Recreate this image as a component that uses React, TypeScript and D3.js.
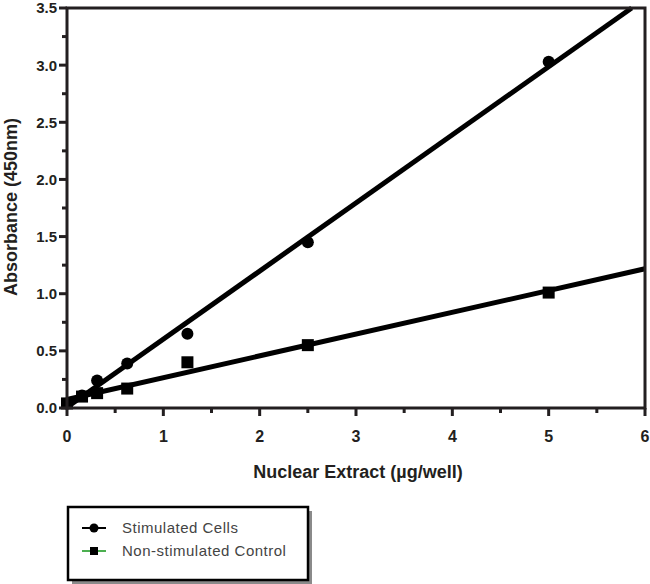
import React from "react";
import * as d3 from "d3";

// nuclear extract amount (ug/well)
const extract = [0, 0.156, 0.3125, 0.625, 1.25, 2.5, 5];
const stimulated = [0.04, 0.11, 0.24, 0.39, 0.65, 1.45, 3.03];
const nonStimulated = [0.04, 0.1, 0.13, 0.17, 0.4, 0.55, 1.01];

const xTicks = [0, 1, 2, 3, 4, 5, 6];
const yTicks = [0, 0.5, 1, 1.5, 2, 2.5, 3, 3.5];

const W = 650;
const H = 584;
const ink = "#231f20";
const font = "'Liberation Sans', Arial, sans-serif";

function fit(xs: number[], ys: number[]) {
  const mx = d3.mean(xs)!;
  const my = d3.mean(ys)!;
  const sxy = d3.sum(xs, (x, i) => (x - mx) * (ys[i] - my));
  const sxx = d3.sum(xs, (x) => (x - mx) ** 2);
  const slope = sxy / sxx;
  return { slope, intercept: my - slope * mx };
}

export default function App() {
  const x = d3.scaleLinear().domain([0, 6]).range([67, 645]);
  const y = d3.scaleLinear().domain([0, 3.5]).range([408, 8]);

  const fitLine = (ys: number[]) => {
    const { slope, intercept } = fit(extract, ys);
    // clip to the plot box
    let x1 = 6;
    if (intercept + slope * 6 > 3.5) x1 = (3.5 - intercept) / slope;
    let x0 = 0;
    if (intercept < 0) x0 = -intercept / slope;
    return d3.line<number>()
      .x((d) => x(d))
      .y((d) => y(intercept + slope * d))([x0, x1]) || "";
  };

  const xMinor = d3.range(0.5, 6, 1);
  const yMinor = d3.range(0.25, 3.5, 0.5);

  return (
    <div style={{ position: "absolute", left: 0, top: 0 }}>
      <svg width={W} height={H} style={{ display: "block" }}>
        <rect width={W} height={H} fill="#fff" />

        {/* fitted lines */}
        <path d={fitLine(stimulated)} stroke="#000" strokeWidth={5} fill="none" />
        <path d={fitLine(nonStimulated)} stroke="#000" strokeWidth={5} fill="none" />

        {/* points */}
        {extract.map((d, i) => (
          <circle key={"s" + i} cx={x(d)} cy={y(stimulated[i])} r={6} fill="#000" />
        ))}
        {extract.map((d, i) => (
          <rect key={"n" + i} x={x(d) - 6} y={y(nonStimulated[i]) - 6} width={12} height={12} fill="#000" />
        ))}

        {/* frame */}
        <rect x={67} y={8} width={578} height={400} fill="none" stroke={ink} strokeWidth={3} />

        {/* y axis ticks */}
        {yTicks.map((t) => (
          <g key={"yt" + t}>
            <line x1={59} x2={67} y1={y(t)} y2={y(t)} stroke={ink} strokeWidth={3} />
            <text x={57} y={y(t)} dy="0.36em" textAnchor="end" fontFamily={font}
              fontWeight="bold" fontSize={15} fill={ink}>{d3.format(".1f")(t)}</text>
          </g>
        ))}
        {yMinor.map((t) => (
          <line key={"ym" + t} x1={62} x2={67} y1={y(t)} y2={y(t)} stroke={ink} strokeWidth={3} />
        ))}

        {/* x axis ticks */}
        {xTicks.map((t) => (
          <g key={"xt" + t}>
            <line x1={x(t)} x2={x(t)} y1={408} y2={416} stroke={ink} strokeWidth={3} />
            <text x={x(t)} y={442} textAnchor="middle" fontFamily={font}
              fontWeight="bold" fontSize={16} fill={ink}>{t}</text>
          </g>
        ))}
        {xMinor.map((t) => (
          <line key={"xm" + t} x1={x(t)} x2={x(t)} y1={408} y2={413} stroke={ink} strokeWidth={3} />
        ))}

        {/* axis titles */}
        <text x={358} y={478} textAnchor="middle" fontFamily={font} fontWeight="bold"
          fontSize={18} fill={ink}>Nuclear Extract (µg/well)</text>
        <text transform="translate(17,207) rotate(-90)" textAnchor="middle" fontFamily={font}
          fontWeight="bold" fontSize={18} fill={ink}>Absorbance (450nm)</text>

        {/* legend */}
        <rect x={72} y={511} width={240} height={73} fill="#8a8a8a" />
        <rect x={68} y={507} width={240} height={73} fill="#fff" stroke="#000" strokeWidth={2.5} />
        <line x1={82} x2={106} y1={528} y2={528} stroke="#000" strokeWidth={2} />
        <circle cx={94} cy={528} r={4.5} fill="#000" />
        <text x={122} y={533} fontFamily={font} fontSize={15} letterSpacing={0.5} fill="#444">Stimulated Cells</text>
        <line x1={82} x2={106} y1={551} y2={551} stroke="#4caf50" strokeWidth={2} />
        <rect x={90} y={547} width={8} height={8} fill="#000" />
        <text x={122} y={556} fontFamily={font} fontSize={15} letterSpacing={0.5} fill="#444">Non-stimulated Control</text>
      </svg>
    </div>
  );
}
